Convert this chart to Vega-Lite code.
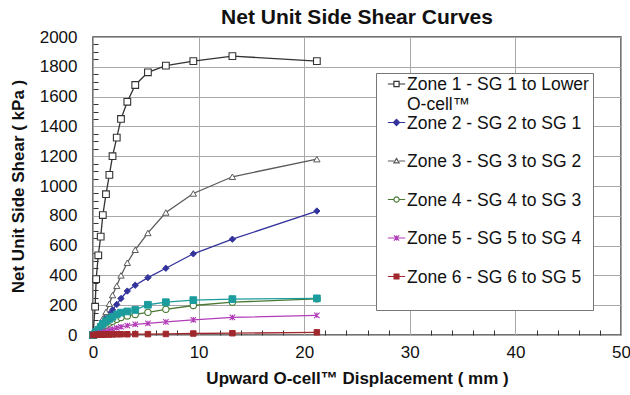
{
  "$schema": "https://vega.github.io/schema/vega-lite/v6.json",
  "width": 528,
  "height": 298,
  "autosize": {"type": "none"},
  "padding": {"left": 93, "top": 37, "right": 9, "bottom": 60},
  "background": "white",
  "title": {"text": "Net Unit Side Shear Curves", "font": "Liberation Sans", "fontSize": 21, "fontWeight": "bold", "color": "#111", "anchor": "middle", "offset": 0},
  "config": {"font": "Liberation Sans", "view": {"stroke": "#444", "strokeWidth": 1.5}},
  "data": {"values": [
    {"zone": "Zone 1 - SG 1 to Lower O-cell™", "disp": 0, "shear": 0},
    {"zone": "Zone 1 - SG 1 to Lower O-cell™", "disp": 0.2, "shear": 190},
    {"zone": "Zone 1 - SG 1 to Lower O-cell™", "disp": 0.3, "shear": 375},
    {"zone": "Zone 1 - SG 1 to Lower O-cell™", "disp": 0.5, "shear": 535},
    {"zone": "Zone 1 - SG 1 to Lower O-cell™", "disp": 0.73, "shear": 660},
    {"zone": "Zone 1 - SG 1 to Lower O-cell™", "disp": 0.93, "shear": 805},
    {"zone": "Zone 1 - SG 1 to Lower O-cell™", "disp": 1.23, "shear": 945},
    {"zone": "Zone 1 - SG 1 to Lower O-cell™", "disp": 1.55, "shear": 1075},
    {"zone": "Zone 1 - SG 1 to Lower O-cell™", "disp": 1.85, "shear": 1200},
    {"zone": "Zone 1 - SG 1 to Lower O-cell™", "disp": 2.25, "shear": 1325},
    {"zone": "Zone 1 - SG 1 to Lower O-cell™", "disp": 2.65, "shear": 1450},
    {"zone": "Zone 1 - SG 1 to Lower O-cell™", "disp": 3.25, "shear": 1565},
    {"zone": "Zone 1 - SG 1 to Lower O-cell™", "disp": 4.0, "shear": 1678},
    {"zone": "Zone 1 - SG 1 to Lower O-cell™", "disp": 5.2, "shear": 1763},
    {"zone": "Zone 1 - SG 1 to Lower O-cell™", "disp": 6.9, "shear": 1808},
    {"zone": "Zone 1 - SG 1 to Lower O-cell™", "disp": 9.5, "shear": 1838},
    {"zone": "Zone 1 - SG 1 to Lower O-cell™", "disp": 13.2, "shear": 1872},
    {"zone": "Zone 1 - SG 1 to Lower O-cell™", "disp": 21.2, "shear": 1838},
    {"zone": "Zone 2 - SG 2 to SG 1", "disp": 0, "shear": 0},
    {"zone": "Zone 2 - SG 2 to SG 1", "disp": 0.2, "shear": 12},
    {"zone": "Zone 2 - SG 2 to SG 1", "disp": 0.3, "shear": 20},
    {"zone": "Zone 2 - SG 2 to SG 1", "disp": 0.5, "shear": 38},
    {"zone": "Zone 2 - SG 2 to SG 1", "disp": 0.73, "shear": 62},
    {"zone": "Zone 2 - SG 2 to SG 1", "disp": 0.93, "shear": 82},
    {"zone": "Zone 2 - SG 2 to SG 1", "disp": 1.23, "shear": 110},
    {"zone": "Zone 2 - SG 2 to SG 1", "disp": 1.55, "shear": 140},
    {"zone": "Zone 2 - SG 2 to SG 1", "disp": 1.85, "shear": 168},
    {"zone": "Zone 2 - SG 2 to SG 1", "disp": 2.25, "shear": 205},
    {"zone": "Zone 2 - SG 2 to SG 1", "disp": 2.65, "shear": 245},
    {"zone": "Zone 2 - SG 2 to SG 1", "disp": 3.25, "shear": 295},
    {"zone": "Zone 2 - SG 2 to SG 1", "disp": 4.0, "shear": 334},
    {"zone": "Zone 2 - SG 2 to SG 1", "disp": 5.2, "shear": 385},
    {"zone": "Zone 2 - SG 2 to SG 1", "disp": 6.9, "shear": 448},
    {"zone": "Zone 2 - SG 2 to SG 1", "disp": 9.5, "shear": 545},
    {"zone": "Zone 2 - SG 2 to SG 1", "disp": 13.2, "shear": 643},
    {"zone": "Zone 2 - SG 2 to SG 1", "disp": 21.2, "shear": 832},
    {"zone": "Zone 3 - SG 3 to SG 2", "disp": 0, "shear": 0},
    {"zone": "Zone 3 - SG 3 to SG 2", "disp": 0.2, "shear": 15},
    {"zone": "Zone 3 - SG 3 to SG 2", "disp": 0.3, "shear": 25},
    {"zone": "Zone 3 - SG 3 to SG 2", "disp": 0.5, "shear": 48},
    {"zone": "Zone 3 - SG 3 to SG 2", "disp": 0.73, "shear": 80},
    {"zone": "Zone 3 - SG 3 to SG 2", "disp": 0.93, "shear": 110},
    {"zone": "Zone 3 - SG 3 to SG 2", "disp": 1.23, "shear": 155},
    {"zone": "Zone 3 - SG 3 to SG 2", "disp": 1.55, "shear": 210},
    {"zone": "Zone 3 - SG 3 to SG 2", "disp": 1.85, "shear": 268},
    {"zone": "Zone 3 - SG 3 to SG 2", "disp": 2.25, "shear": 330},
    {"zone": "Zone 3 - SG 3 to SG 2", "disp": 2.65, "shear": 400},
    {"zone": "Zone 3 - SG 3 to SG 2", "disp": 3.25, "shear": 485},
    {"zone": "Zone 3 - SG 3 to SG 2", "disp": 4.0, "shear": 572},
    {"zone": "Zone 3 - SG 3 to SG 2", "disp": 5.2, "shear": 685},
    {"zone": "Zone 3 - SG 3 to SG 2", "disp": 6.9, "shear": 822},
    {"zone": "Zone 3 - SG 3 to SG 2", "disp": 9.5, "shear": 950},
    {"zone": "Zone 3 - SG 3 to SG 2", "disp": 13.2, "shear": 1062},
    {"zone": "Zone 3 - SG 3 to SG 2", "disp": 21.2, "shear": 1180},
    {"zone": "Zone 4 - SG 4 to SG 3", "disp": 0, "shear": 0},
    {"zone": "Zone 4 - SG 4 to SG 3", "disp": 0.2, "shear": 8},
    {"zone": "Zone 4 - SG 4 to SG 3", "disp": 0.3, "shear": 15},
    {"zone": "Zone 4 - SG 4 to SG 3", "disp": 0.5, "shear": 25},
    {"zone": "Zone 4 - SG 4 to SG 3", "disp": 0.73, "shear": 38},
    {"zone": "Zone 4 - SG 4 to SG 3", "disp": 0.93, "shear": 52},
    {"zone": "Zone 4 - SG 4 to SG 3", "disp": 1.23, "shear": 65},
    {"zone": "Zone 4 - SG 4 to SG 3", "disp": 1.55, "shear": 80},
    {"zone": "Zone 4 - SG 4 to SG 3", "disp": 1.85, "shear": 92},
    {"zone": "Zone 4 - SG 4 to SG 3", "disp": 2.25, "shear": 105},
    {"zone": "Zone 4 - SG 4 to SG 3", "disp": 2.65, "shear": 118},
    {"zone": "Zone 4 - SG 4 to SG 3", "disp": 3.25, "shear": 128},
    {"zone": "Zone 4 - SG 4 to SG 3", "disp": 4.0, "shear": 138},
    {"zone": "Zone 4 - SG 4 to SG 3", "disp": 5.2, "shear": 152},
    {"zone": "Zone 4 - SG 4 to SG 3", "disp": 6.9, "shear": 172},
    {"zone": "Zone 4 - SG 4 to SG 3", "disp": 9.5, "shear": 198},
    {"zone": "Zone 4 - SG 4 to SG 3", "disp": 13.2, "shear": 220},
    {"zone": "Zone 4 - SG 4 to SG 3", "disp": 21.2, "shear": 243},
    {"zone": "Series 7", "disp": 0, "shear": 0},
    {"zone": "Series 7", "disp": 0.2, "shear": 10},
    {"zone": "Series 7", "disp": 0.3, "shear": 20},
    {"zone": "Series 7", "disp": 0.5, "shear": 35},
    {"zone": "Series 7", "disp": 0.73, "shear": 55},
    {"zone": "Series 7", "disp": 0.93, "shear": 75},
    {"zone": "Series 7", "disp": 1.23, "shear": 92},
    {"zone": "Series 7", "disp": 1.55, "shear": 108},
    {"zone": "Series 7", "disp": 1.85, "shear": 122},
    {"zone": "Series 7", "disp": 2.25, "shear": 138},
    {"zone": "Series 7", "disp": 2.65, "shear": 150},
    {"zone": "Series 7", "disp": 3.25, "shear": 158},
    {"zone": "Series 7", "disp": 4.0, "shear": 168},
    {"zone": "Series 7", "disp": 5.2, "shear": 203},
    {"zone": "Series 7", "disp": 6.9, "shear": 220},
    {"zone": "Series 7", "disp": 9.5, "shear": 234},
    {"zone": "Series 7", "disp": 13.2, "shear": 241},
    {"zone": "Series 7", "disp": 21.2, "shear": 246},
    {"zone": "Zone 5 - SG 5 to SG 4", "disp": 0, "shear": 0},
    {"zone": "Zone 5 - SG 5 to SG 4", "disp": 0.2, "shear": 2},
    {"zone": "Zone 5 - SG 5 to SG 4", "disp": 0.3, "shear": 4},
    {"zone": "Zone 5 - SG 5 to SG 4", "disp": 0.5, "shear": 7},
    {"zone": "Zone 5 - SG 5 to SG 4", "disp": 0.73, "shear": 12},
    {"zone": "Zone 5 - SG 5 to SG 4", "disp": 0.93, "shear": 18},
    {"zone": "Zone 5 - SG 5 to SG 4", "disp": 1.23, "shear": 25},
    {"zone": "Zone 5 - SG 5 to SG 4", "disp": 1.55, "shear": 33},
    {"zone": "Zone 5 - SG 5 to SG 4", "disp": 1.85, "shear": 40},
    {"zone": "Zone 5 - SG 5 to SG 4", "disp": 2.25, "shear": 48},
    {"zone": "Zone 5 - SG 5 to SG 4", "disp": 2.65, "shear": 55},
    {"zone": "Zone 5 - SG 5 to SG 4", "disp": 3.25, "shear": 63},
    {"zone": "Zone 5 - SG 5 to SG 4", "disp": 4.0, "shear": 72},
    {"zone": "Zone 5 - SG 5 to SG 4", "disp": 5.2, "shear": 78},
    {"zone": "Zone 5 - SG 5 to SG 4", "disp": 6.9, "shear": 88},
    {"zone": "Zone 5 - SG 5 to SG 4", "disp": 9.5, "shear": 102},
    {"zone": "Zone 5 - SG 5 to SG 4", "disp": 13.2, "shear": 118},
    {"zone": "Zone 5 - SG 5 to SG 4", "disp": 21.2, "shear": 132},
    {"zone": "Zone 6 - SG 6 to SG 5", "disp": 0, "shear": 0},
    {"zone": "Zone 6 - SG 6 to SG 5", "disp": 0.2, "shear": 1},
    {"zone": "Zone 6 - SG 6 to SG 5", "disp": 0.3, "shear": 1},
    {"zone": "Zone 6 - SG 6 to SG 5", "disp": 0.5, "shear": 2},
    {"zone": "Zone 6 - SG 6 to SG 5", "disp": 0.73, "shear": 2},
    {"zone": "Zone 6 - SG 6 to SG 5", "disp": 0.93, "shear": 3},
    {"zone": "Zone 6 - SG 6 to SG 5", "disp": 1.23, "shear": 3},
    {"zone": "Zone 6 - SG 6 to SG 5", "disp": 1.55, "shear": 4},
    {"zone": "Zone 6 - SG 6 to SG 5", "disp": 1.85, "shear": 4},
    {"zone": "Zone 6 - SG 6 to SG 5", "disp": 2.25, "shear": 5},
    {"zone": "Zone 6 - SG 6 to SG 5", "disp": 2.65, "shear": 5},
    {"zone": "Zone 6 - SG 6 to SG 5", "disp": 3.25, "shear": 5},
    {"zone": "Zone 6 - SG 6 to SG 5", "disp": 4.0, "shear": 6},
    {"zone": "Zone 6 - SG 6 to SG 5", "disp": 5.2, "shear": 6},
    {"zone": "Zone 6 - SG 6 to SG 5", "disp": 6.9, "shear": 7},
    {"zone": "Zone 6 - SG 6 to SG 5", "disp": 9.5, "shear": 10},
    {"zone": "Zone 6 - SG 6 to SG 5", "disp": 13.2, "shear": 12},
    {"zone": "Zone 6 - SG 6 to SG 5", "disp": 21.2, "shear": 18}
  ]},
  "resolve": {"axis": {"x": "independent", "y": "independent"}},
  "encoding": {
    "x": {"field": "disp", "type": "quantitative", "scale": {"domain": [0, 50], "nice": false, "zero": false}},
    "y": {"field": "shear", "type": "quantitative", "scale": {"domain": [0, 2000], "nice": false}}
  },
  "layer": [
    {
      "mark": {"type": "line", "strokeWidth": 1.3},
      "encoding": {
        "x": {"field": "disp", "type": "quantitative",
          "axis": {"orient": "bottom", "values": [2,4,6,8,12,14,16,18,22,24,26,28,32,34,36,38,42,44,46,48], "labels": false, "grid": false, "domain": false, "ticks": true, "tickSize": -5, "tickColor": "#333", "tickWidth": 1, "title": null}},
        "y": {"field": "shear", "type": "quantitative",
          "axis": {"orient": "left", "values": [50,100,150,250,300,350,450,500,550,650,700,750,850,900,950,1050,1100,1150,1250,1300,1350,1450,1500,1550,1650,1700,1750,1850,1900,1950], "labels": false, "grid": false, "domain": false, "ticks": true, "tickSize": -5, "tickColor": "#333", "tickWidth": 1, "title": null}},
        "stroke": {"field": "zone", "type": "nominal",
          "scale": {"domain": ["Zone 1 - SG 1 to Lower O-cell™", "Zone 2 - SG 2 to SG 1", "Zone 3 - SG 3 to SG 2", "Zone 4 - SG 4 to SG 3", "Series 7", "Zone 5 - SG 5 to SG 4", "Zone 6 - SG 6 to SG 5"],
                    "range": ["#333333", "#33339c", "#5a5a5a", "#4a7a34", "#1c9c9c", "#b23cb8", "#a0282c"]},
          "legend": {
            "orient": "none", "legendX": 283, "legendY": 36,
            "title": null,
            "values": ["Zone 1 - SG 1 to Lower O-cell™", "Zone 2 - SG 2 to SG 1", "Zone 3 - SG 3 to SG 2", "Zone 4 - SG 4 to SG 3", "Zone 5 - SG 5 to SG 4", "Zone 6 - SG 6 to SG 5"],
            "fillColor": "white", "strokeColor": "#777", "padding": 4,
            "labelFont": "Liberation Sans", "labelFontSize": 17.5, "labelColor": "#111", "labelLimit": 400, "labelOffset": 1, "labelBaseline": "alphabetic",
            "clipHeight": 14, "rowPadding": 1.5, "symbolOffset": 7,
            "symbolSize": 300, "symbolStrokeWidth": 1.2,
            "labelExpr": "datum.label == 'Zone 1 - SG 1 to Lower O-cell™' ? ['Zone 1 - SG 1 to Lower', 'O-cell™'] : [datum.label, ' ']",
            "encode": {
              "labels": {"update": {"dy": {"value": 6}}},
              "symbols": {"update": {
              "shape": {"signal": "datum.value == 'Zone 1 - SG 1 to Lower O-cell™' ? 'M-1,0H-0.3M0.3,0H1M-0.3,-0.3H0.3V0.3H-0.3Z' : datum.value == 'Zone 2 - SG 2 to SG 1' ? 'M-1,0H-0.35M0.35,0H1M-0.35,0L0,-0.35L0.35,0L0,0.35Z' : datum.value == 'Zone 3 - SG 3 to SG 2' ? 'M-1,0H-0.3M0.3,0H1M-0.3,0.22L0,-0.3L0.3,0.22Z' : datum.value == 'Zone 4 - SG 4 to SG 3' ? 'M-1,0H-0.3M0.3,0H1M-0.3,0A0.3,0.3 0 1,0 0.3,0A0.3,0.3 0 1,0 -0.3,0Z' : datum.value == 'Zone 5 - SG 5 to SG 4' ? 'M-1,0H1M-0.3,-0.3L0.3,0.3M-0.3,0.3L0.3,-0.3M0,-0.3V0.3' : 'M-1,0H-0.28M0.28,0H1M-0.28,-0.28H0.28V0.28H-0.28Z'"},
              "fill": {"signal": "datum.value == 'Zone 2 - SG 2 to SG 1' ? '#33339c' : datum.value == 'Zone 6 - SG 6 to SG 5' ? '#a0282c' : 'white'"}
            }}}
          }},
        "order": {"field": "disp", "type": "quantitative"}
      }
    },
    {
      "transform": [{"filter": "datum.zone == 'Zone 1 - SG 1 to Lower O-cell™'"}],
      "mark": {"type": "point", "shape": "square", "filled": true, "fill": "white", "stroke": "#333333", "size": 45, "strokeWidth": 1.1, "opacity": 1},
      "encoding": {
        "x": {"field": "disp", "type": "quantitative",
          "axis": {"orient": "bottom", "values": [0,10,20,30,40,50], "grid": true, "gridColor": "#a8a8a8", "gridWidth": 1, "ticks": false, "domain": false, "labelFlush": false,
            "labelFont": "Liberation Sans", "labelFontSize": 17, "labelColor": "#111", "labelPadding": 9,
            "title": "Upward O-cell™ Displacement  ( mm )", "titleFont": "Liberation Sans", "titleFontSize": 17, "titleFontWeight": "bold", "titleColor": "#111", "titlePadding": 10}},
        "y": {"field": "shear", "type": "quantitative",
          "axis": {"orient": "left", "values": [0,200,400,600,800,1000,1200,1400,1600,1800,2000], "format": "d", "grid": true, "gridColor": "#a8a8a8", "gridWidth": 1, "ticks": false, "domain": false, "labelFlush": false,
            "labelFont": "Liberation Sans", "labelFontSize": 17, "labelColor": "#111", "labelPadding": 16,
            "title": "Net Unit Side Shear  ( kPa )", "titleFont": "Liberation Sans", "titleFontSize": 17, "titleFontWeight": "bold", "titleColor": "#111", "titlePadding": 12}}
      }
    },
    {
      "transform": [{"filter": "datum.zone == 'Zone 2 - SG 2 to SG 1'"}],
      "mark": {"type": "point", "shape": "diamond", "filled": true, "fill": "#33339c", "stroke": "#33339c", "size": 40, "strokeWidth": 1, "opacity": 1},
      "encoding": {"x": {"field": "disp", "type": "quantitative", "axis": null}, "y": {"field": "shear", "type": "quantitative", "axis": null}}
    },
    {
      "transform": [{"filter": "datum.zone == 'Zone 3 - SG 3 to SG 2'"}],
      "mark": {"type": "point", "shape": "triangle-up", "filled": true, "fill": "white", "stroke": "#5a5a5a", "size": 40, "strokeWidth": 1, "opacity": 1},
      "encoding": {"x": {"field": "disp", "type": "quantitative", "axis": null}, "y": {"field": "shear", "type": "quantitative", "axis": null}}
    },
    {
      "transform": [{"filter": "datum.zone == 'Zone 4 - SG 4 to SG 3'"}],
      "mark": {"type": "point", "shape": "circle", "filled": true, "fill": "white", "stroke": "#4a7a34", "size": 40, "strokeWidth": 1.1, "opacity": 1},
      "encoding": {"x": {"field": "disp", "type": "quantitative", "axis": null}, "y": {"field": "shear", "type": "quantitative", "axis": null}}
    },
    {
      "transform": [{"filter": "datum.zone == 'Series 7'"}],
      "mark": {"type": "point", "shape": "square", "filled": true, "fill": "#1c9c9c", "stroke": "#1c9c9c", "size": 45, "strokeWidth": 1, "opacity": 1},
      "encoding": {"x": {"field": "disp", "type": "quantitative", "axis": null}, "y": {"field": "shear", "type": "quantitative", "axis": null}}
    },
    {
      "transform": [{"filter": "datum.zone == 'Zone 5 - SG 5 to SG 4'"}],
      "mark": {"type": "point", "shape": "M-1,-1L1,1M-1,1L1,-1M0,-1V1", "filled": false, "stroke": "#b23cb8", "size": 30, "strokeWidth": 1.1, "opacity": 1},
      "encoding": {"x": {"field": "disp", "type": "quantitative", "axis": null}, "y": {"field": "shear", "type": "quantitative", "axis": null}}
    },
    {
      "transform": [{"filter": "datum.zone == 'Zone 6 - SG 6 to SG 5'"}],
      "mark": {"type": "point", "shape": "square", "filled": true, "fill": "#a0282c", "stroke": "#a0282c", "size": 30, "strokeWidth": 1, "opacity": 1},
      "encoding": {"x": {"field": "disp", "type": "quantitative", "axis": null}, "y": {"field": "shear", "type": "quantitative", "axis": null}}
    }
  ]
}
